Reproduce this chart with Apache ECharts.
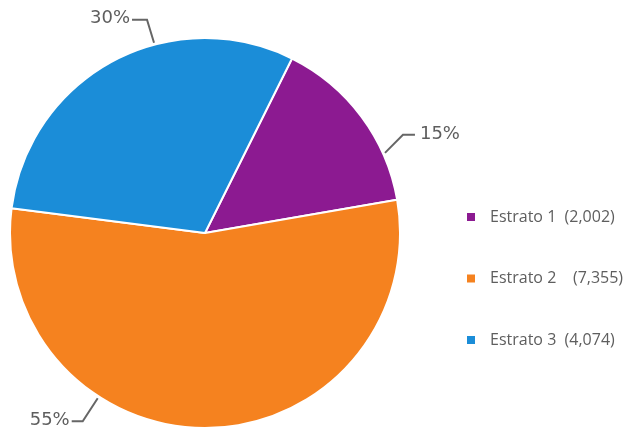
<!DOCTYPE html>
<html>
<head>
<meta charset="utf-8">
<script src="https://cdn.jsdelivr.net/npm/echarts@6/dist/echarts.min.js"></script>
<style>
  html, body { margin: 0; padding: 0; background: #ffffff; }
  #chart { width: 631px; height: 432px; }
</style>
</head>
<body>
<div id="chart"></div>
<script>
// Population by stratum
const categories = ['Estrato 1', 'Estrato 2', 'Estrato 3'];
const counts = [2002, 7355, 4074];
const percentLabels = ['15%', '55%', '30%'];

const colors = ['#8c1a91', '#f5821f', '#1b8dd8'];

// Pie geometry (pixels)
const CX = 205, CY = 233, R = 195;

// Callout guides: anchor angle on the rim (deg, counter-clockwise from 3 o'clock),
// first leg vector, horizontal tail length and text side
const guides = [
  { angle: 24,  leg: [18, -18], tail: 12,  side: 'left'  },
  { angle: 237, leg: [-15, 23], tail: -11, side: 'right' },
  { angle: 105, leg: [-7, -23], tail: -15, side: 'right' }
];

// Extra spacing between stratum name and its count in the legend
const legendGaps = ['  ', '    ', '  '];

const pieData = categories.map((name, i) => ({
  name: name,
  value: counts[i],
  itemStyle: { color: colors[i] }
}));

const chart = echarts.init(document.getElementById('chart'), null, { renderer: 'canvas' });

chart.setOption({
  animation: false,
  backgroundColor: '#ffffff',
  legend: {
    orient: 'vertical',
    left: 460,
    top: 202,
    itemWidth: 10,
    itemHeight: 10,
    itemGap: 41.5,
    icon: 'rect',
    data: categories,
    formatter: function (name) {
      const i = categories.indexOf(name);
      return name + legendGaps[i] + '(' + counts[i].toLocaleString('en-US') + ')';
    },
    textStyle: {
      fontFamily: 'Open Sans',
      fontSize: 16,
      color: '#5e5e5e',
      lineHeight: 20,
      padding: [0, 0, 0, 9]
    }
  },
  series: [{
    type: 'pie',
    center: [CX, CY],
    radius: R,
    startAngle: 63.5,
    clockwise: true,
    data: pieData,
    itemStyle: { borderColor: '#ffffff', borderWidth: 2 },
    label: {
      show: true,
      formatter: function (p) { return percentLabels[p.dataIndex]; },
      fontFamily: 'DejaVu Sans',
      fontSize: 18,
      color: '#5e5e5e'
    },
    labelLine: {
      show: true,
      lineStyle: { color: '#666666', width: 2 }
    },
    labelLayout: function (params) {
      const g = guides[params.dataIndex];
      const a = g.angle * Math.PI / 180;
      const p0 = [CX + (R + 2) * Math.cos(a), CY - (R + 2) * Math.sin(a)];
      const p1 = [p0[0] + g.leg[0], p0[1] + g.leg[1]];
      const p2 = [p1[0] + g.tail, p1[1]];
      const textX = g.side === 'left' ? p2[0] + 5 : p2[0] - 2;
      return {
        x: textX,
        y: p2[1] - 1,
        align: g.side,
        verticalAlign: 'middle',
        labelLinePoints: [p0, p1, p2]
      };
    },
    emphasis: { disabled: true }
  }]
});
</script>
</body>
</html>
